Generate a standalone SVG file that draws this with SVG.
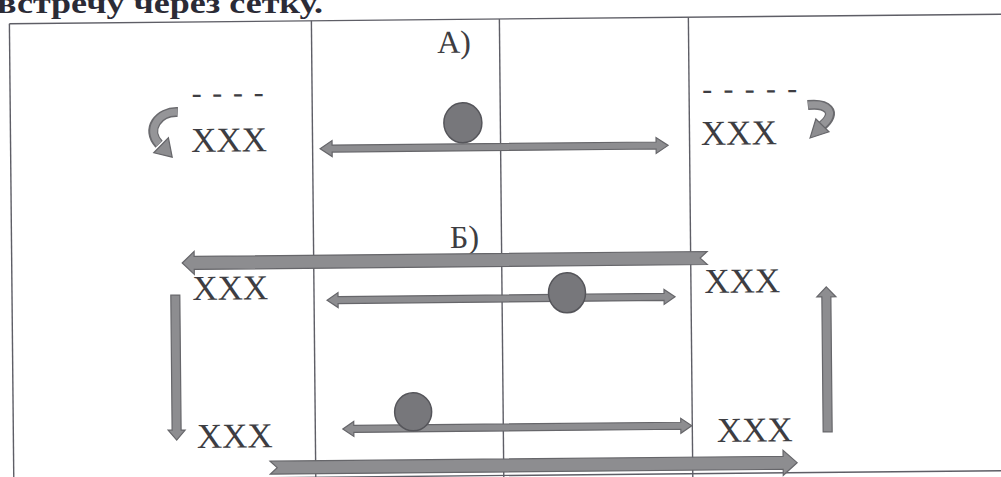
<svg xmlns="http://www.w3.org/2000/svg" width="1001" height="477" viewBox="0 0 1001 477">
<style>
.grid{stroke:#5e5e66;stroke-width:1.4;fill:none}
.t{font-family:"Liberation Serif","Times New Roman",serif;fill:#3d3d42}
.lbl{font-size:32px}
.x{font-size:35px}
.d{font-size:30px}
.arr{fill:#8d8d90;stroke:#66666a;stroke-width:1.2;stroke-linejoin:miter}
.ball{fill:#77777b;stroke:#55555a;stroke-width:1.5}
.curveO{fill:none;stroke:#6a6a6e;stroke-width:10;stroke-linecap:butt}
.curveI{fill:none;stroke:#959598;stroke-width:7;stroke-linecap:butt}
</style>
<rect width="1001" height="477" fill="#ffffff"/>
<text id="header" x="-3" y="13" font-family="'Liberation Serif','Times New Roman',serif" font-weight="bold" font-size="30" fill="#2b2b36" textLength="326" lengthAdjust="spacingAndGlyphs">встречу через сетку.</text>
<g transform="rotate(-0.55 500 240)">
  <g id="table">
    <line class="grid" x1="11.5" y1="19" x2="1015" y2="19"/>
    <line class="grid" x1="11.5" y1="475.5" x2="1015" y2="475.5"/>
    <line class="grid" x1="11.5" y1="19" x2="11.5" y2="490"/>
    <line class="grid" x1="313.5" y1="19" x2="313.5" y2="490"/>
    <line class="grid" x1="501.5" y1="19" x2="501.5" y2="490"/>
    <line class="grid" x1="690.5" y1="19" x2="690.5" y2="490"/>
  </g>
  <g id="labelA"><text class="t lbl" x="439" y="52.5">А)</text></g>
  <g id="labelB"><text class="t lbl" x="450" y="247.5">Б)</text></g>
  <g id="topLeft">
    <text class="t d" x="193" y="100" textLength="72" lengthAdjust="spacing">- - - -</text>
    <text class="t x" x="192" y="149">XXX</text>
  </g>
  <g id="topRight">
    <text class="t d" x="703.5" y="101" textLength="95" lengthAdjust="spacing">- - - - -</text>
    <text class="t x" x="702" y="147">XXX</text>
  </g>
  <g id="midLeft"><text class="t x" x="192" y="297">XXX</text></g>
  <g id="midRight"><text class="t x" x="704" y="295">XXX</text></g>
  <g id="botLeft"><text class="t x" x="195" y="445">XXX</text></g>
  <g id="botRight"><text class="t x" x="715" y="444">XXX</text></g>
  <g id="connectors">
    <!-- curved arrows -->
    <path class="curveO" d="M179,109 C160,108 146,126 160,141"/>
    <path class="curveI" d="M178.5,109 C160,108 147,126 160,140.5"/>
    <polygon class="arr" points="173,154 169.4,134.6 154.6,149.4"/>
    <path class="curveO" d="M809,108 C828,106 840,115 823,129"/>
    <path class="curveI" d="M809.5,108 C828,106 839,115 823,128.5"/>
    <polygon class="arr" points="811,141 830,135 817,122"/>
    <!-- A) double arrow -->
    <polygon class="arr" points="321,147 333,139 333,143.5 657,143.5 657,139 669,147 657,155 657,150.5 333,150.5 333,155"/>
    <!-- Б) big left arrow -->
    <polygon class="arr" points="182,260 194,248.5 194,253.5 707,253.5 700,260 707,266.5 194,266.5 194,271.5"/>
    <!-- Б) middle double arrow -->
    <polygon class="arr" points="326.5,298.5 337.5,291 337.5,295 663.5,295 663.5,291 674.5,298.5 663.5,306 663.5,302 337.5,302 337.5,306"/>
    <!-- bottom double arrow -->
    <polygon class="arr" points="341,427.5 352,420 352,424 679,424 679,420 690,427.5 679,435 679,431 352,431 352,435"/>
    <!-- big bottom right arrow -->
    <polygon class="arr" points="268,459 781,459 781,453 795,465.5 781,478 781,472 268,472 275,465.5"/>
    <!-- right vertical up arrow -->
    <polygon class="arr" points="825.8,290 835.3,300 830.3,300 830.3,435 821.3,435 821.3,300 816.3,300"/>
    <!-- left vertical down arrow -->
    <polygon class="arr" points="170.3,292 179.3,292 179.3,427 183.3,427 174.8,437 166.3,427 170.3,427"/>
  </g>
  <g id="ball1"><ellipse class="ball" cx="464" cy="122.5" rx="19" ry="20"/></g>
  <g id="ball2"><ellipse class="ball" cx="566.5" cy="293.5" rx="18.5" ry="20"/></g>
  <g id="ball3"><ellipse class="ball" cx="411.5" cy="411" rx="18.5" ry="19"/></g>
</g>
</svg>
